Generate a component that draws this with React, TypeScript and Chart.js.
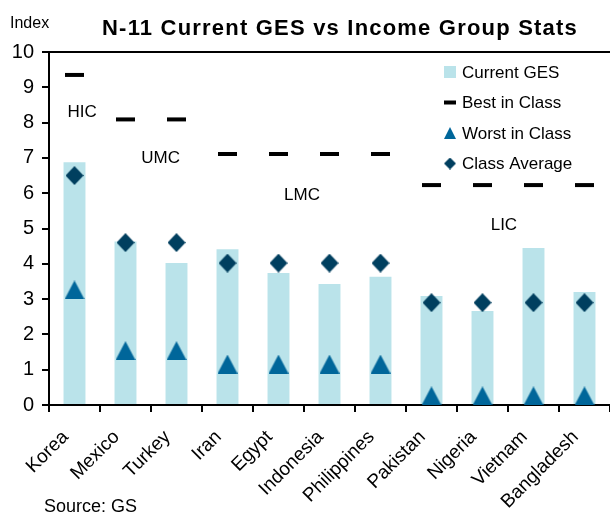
import React, { useEffect, useRef } from "react";
import { Chart, registerables } from "chart.js";

Chart.register(...registerables);

const countries = [
  "Korea", "Mexico", "Turkey", "Iran", "Egypt", "Indonesia",
  "Philippines", "Pakistan", "Nigeria", "Vietnam", "Bangladesh",
];
const currentGES = [6.88, 4.63, 4.02, 4.41, 3.74, 3.43, 3.63, 3.09, 2.66, 4.45, 3.2];
const bestInClass = [9.35, 8.09, 8.09, 7.11, 7.11, 7.11, 7.11, 6.23, 6.23, 6.23, 6.23];
const worstInClass = [3.26, 1.54, 1.54, 1.16, 1.16, 1.16, 1.16, 0.26, 0.26, 0.26, 0.26];
const classAverage = [6.5, 4.6, 4.6, 4.02, 4.02, 4.02, 4.02, 2.9, 2.9, 2.9, 2.9];

const groupLabels = ["HIC", "UMC", "LMC", "LIC"];
const groupLabelX = [0.15, 1.69, 4.46, 8.42];
const groupLabelY = [8.28, 7.0, 5.95, 5.1];

const legendLabels = ["Current GES", "Best in Class", "Worst in Class", "Class Average"];

const TITLE = "N-11 Current GES vs Income Group Stats";
const Y_TITLE = "Index";
const SOURCE = "Source: GS";

const FONT = "'Liberation Sans', Arial, Helvetica, sans-serif";
const BAR_COLOR = "#BAE3EA";
const TRI_COLOR = "#00669A";
const DIA_COLOR = "#003F5F";

function makeTriangle(w: number, h: number, color: string) {
  const c = document.createElement("canvas");
  c.width = w;
  c.height = h;
  const ctx = c.getContext("2d")!;
  ctx.fillStyle = color;
  ctx.beginPath();
  ctx.moveTo(w / 2, 0);
  ctx.lineTo(w, h);
  ctx.lineTo(0, h);
  ctx.closePath();
  ctx.fill();
  return c;
}

function makeDiamond(w: number, h: number, color: string) {
  const c = document.createElement("canvas");
  c.width = w;
  c.height = h;
  const ctx = c.getContext("2d")!;
  ctx.fillStyle = color;
  ctx.beginPath();
  ctx.moveTo(w / 2, 0);
  ctx.lineTo(w, h / 2);
  ctx.lineTo(w / 2, h);
  ctx.lineTo(0, h / 2);
  ctx.closePath();
  ctx.fill();
  return c;
}

const decorPlugin = {
  id: "decor",
  afterDraw(chart: any) {
    const { ctx, chartArea, scales } = chart;
    const xs = scales.x;
    const ys = scales.y;
    ctx.save();
    // top border
    ctx.strokeStyle = "#000";
    ctx.lineWidth = 2;
    ctx.beginPath();
    ctx.moveTo(chartArea.left, chartArea.top);
    ctx.lineTo(chart.width, chartArea.top);
    ctx.stroke();

    // title
    ctx.fillStyle = "#000";
    ctx.font = `bold 22px ${FONT}`;
    (ctx as any).letterSpacing = "1.2px";
    ctx.textAlign = "center";
    ctx.textBaseline = "alphabetic";
    ctx.fillText(TITLE, 340, 35);
    (ctx as any).letterSpacing = "0px";

    // y title
    ctx.font = `16px ${FONT}`;
    ctx.textAlign = "left";
    ctx.fillText(Y_TITLE, 10, 28);

    // source
    ctx.font = `18px ${FONT}`;
    ctx.fillText(SOURCE, 44, 512);

    // group labels
    ctx.font = `17px ${FONT}`;
    ctx.textAlign = "center";
    ctx.textBaseline = "middle";
    groupLabels.forEach((t, i) => {
      ctx.fillText(t, xs.getPixelForValue(groupLabelX[i]), ys.getPixelForValue(groupLabelY[i]));
    });

    // legend
    const lx = 444;
    const tx = 462;
    const rows = [72, 102.5, 133, 163.5];
    ctx.font = `17px ${FONT}`;
    ctx.textAlign = "left";
    ctx.textBaseline = "middle";
    legendLabels.forEach((t, i) => {
      ctx.fillStyle = "#000";
      ctx.fillText(t, tx, rows[i] + 1);
    });
    ctx.fillStyle = BAR_COLOR;
    ctx.fillRect(lx, rows[0] - 6, 12, 12);
    ctx.fillStyle = "#000";
    ctx.fillRect(lx, rows[1] - 2, 12, 4);
    ctx.drawImage(makeTriangle(12, 12, TRI_COLOR), lx, rows[2] - 6);
    ctx.drawImage(makeDiamond(12, 12, DIA_COLOR), lx, rows[3] - 6);
    ctx.restore();
  },
};

export default function App() {
  const ref = useRef<HTMLCanvasElement | null>(null);
  useEffect(() => {
    if (!ref.current) return;
    const tri = makeTriangle(20, 19, TRI_COLOR);
    const dia = makeDiamond(18, 19, DIA_COLOR);
    const chart = new Chart(ref.current, {
      type: "bar",
      data: {
        labels: countries,
        datasets: [
          {
            type: "line",
            label: legendLabels[1],
            data: bestInClass,
            showLine: false,
            pointStyle: "line",
            pointRadius: 9.5,
            pointBorderWidth: 4,
            borderColor: "#000",
            backgroundColor: "#000",
            clip: false,
            order: 0,
          } as any,
          {
            type: "line",
            label: legendLabels[2],
            data: worstInClass,
            showLine: false,
            pointStyle: tri,
            pointRadius: 10,
            borderColor: TRI_COLOR,
            backgroundColor: TRI_COLOR,
            clip: false,
            order: 0,
          } as any,
          {
            type: "line",
            label: legendLabels[3],
            data: classAverage,
            showLine: false,
            pointStyle: dia,
            pointRadius: 10,
            borderColor: DIA_COLOR,
            backgroundColor: DIA_COLOR,
            clip: false,
            order: 0,
          } as any,
          {
            type: "bar",
            label: legendLabels[0],
            data: currentGES,
            backgroundColor: BAR_COLOR,
            borderWidth: 0,
            categoryPercentage: 1,
            barPercentage: 0.43,
            order: 1,
          },
        ],
      },
      options: {
        animation: false,
        responsive: false,
        maintainAspectRatio: false,
        devicePixelRatio: 1,
        layout: { autoPadding: false, padding: { top: 52, left: 0, right: 0, bottom: 0 } },
        font: { family: FONT },
        plugins: {
          legend: { display: false },
          tooltip: { enabled: false },
          title: { display: false },
        },
        scales: {
          x: {
            offset: true,
            grid: {
              offset: true,
              drawOnChartArea: false,
              drawTicks: true,
              tickLength: 7,
              color: "#000",
              lineWidth: 2,
            },
            border: { display: true, color: "#000", width: 2 },
            ticks: {
              color: "#000",
              font: { size: 19, family: FONT },
              minRotation: 45,
              maxRotation: 45,
              autoSkip: false,
              padding: 14,
              labelOffset: -9,
            },
            afterFit: (s: any) => {
              s.height = 110;
              s.paddingLeft = 0;
              s.paddingRight = 0;
            },
          },
          y: {
            min: 0,
            max: 10,
            grid: {
              drawOnChartArea: false,
              drawTicks: true,
              tickLength: 7,
              color: "#000",
              lineWidth: 2,
            },
            border: { display: true, color: "#000", width: 2 },
            ticks: {
              stepSize: 1,
              color: "#000",
              font: { size: 20, family: FONT },
              padding: 8,
            },
            afterFit: (s: any) => {
              s.width = 49;
            },
          },
        },
      },
      plugins: [decorPlugin],
    });
    return () => chart.destroy();
  }, []);
  return (
    <div style={{ position: "fixed", left: 0, top: 0, width: 610, height: 515, background: "#fff" }}>
      <canvas ref={ref} width={610} height={515} style={{ width: 610, height: 515, display: "block" }} />
    </div>
  );
}
